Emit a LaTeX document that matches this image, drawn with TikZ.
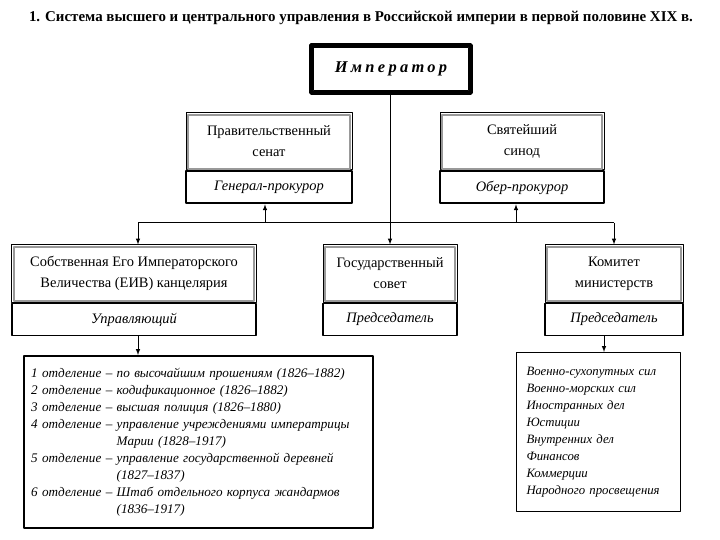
\documentclass[tikz,border=0pt]{standalone}
\usepackage{fontspec}
\setmainfont{Liberation Serif}
\usetikzlibrary{positioning,calc}

\tikzset{
  headbox/.style={draw, line width=1bp, align=center, inner sep=0pt,
    minimum height=57bp, font=\fontsize{14.5}{21}\selectfont},
  chiefbox/.style={draw, line width=1.8bp, inner sep=0pt, minimum height=32bp,
    font=\fontsize{14.5}{17}\selectfont\itshape},
  listbox/.style={draw, align=left, anchor=north west, inner ysep=0pt,
    font=\fontsize{13.2}{17}\selectfont\itshape},
  innerframe/.style={draw=gray!80, line width=1.5bp},
}

\begin{document}
\begin{tikzpicture}[>=latex,line join=bevel,x=1bp,y=-1bp]
  \pgfsetlinewidth{1bp}
  \fill[white] (0,0) rectangle (720,540);
  \useasboundingbox (0,0) rectangle (720,540);
%%
  % Node: title
  \node (title) at (361,18) {\fontsize{15}{18}\selectfont\bfseries
    1. Система высшего и центрального управления в Российской империи в первой половине XIX в.};
  % Node: imp
  \node[draw, line width=3.2bp, minimum width=160bp, minimum height=48bp,
    font=\fontsize{16.5}{18}\selectfont\bfseries\itshape] (imp) at (391,69)
    {\addfontfeatures{LetterSpace=20}Император};
  \draw[line width=0.9bp] ($(imp.north west)+(4.5,4.5)$) rectangle ($(imp.south east)+(-4.5,-4.5)$);
  % Node: senate
  \node[headbox, minimum width=166bp] (senate) at (269,141.5) {Правительственный\\сенат};
  \node[chiefbox, minimum width=166bp, below=0pt of senate] (genproc) {Генерал-прокурор};
  % Node: synod
  \node[headbox, minimum width=164bp] (synod) at (522,141.5) {Святейший\\синод};
  \node[chiefbox, minimum width=164bp, below=0pt of synod] (oberproc) {Обер-прокурор};
  % Node: chancery
  \node[headbox, minimum width=244bp] (chancery) at (134,273.5)
    {Собственная Его Императорского\\Величества (ЕИВ) канцелярия};
  \node[chiefbox, minimum width=244bp, below=0pt of chancery] (manager) {Управляющий};
  % Node: council
  \node[headbox, minimum width=134bp] (council) at (390,273.5) {Государственный\\совет};
  \node[chiefbox, minimum width=134bp, below=0pt of council] (chair1) {Председатель};
  % Node: committee
  \node[headbox, minimum width=138bp] (committee) at (614,273.5) {Комитет\\министерств};
  \node[chiefbox, minimum width=138bp, below=0pt of committee] (chair2) {Председатель};
  % inner frames of the head boxes
  \foreach \n in {senate,synod,chancery,council,committee}
    \draw[innerframe] ($(\n.north west)+(2.5,2.5)$) rectangle ($(\n.south east)+(-2.5,-1.5)$);
  % Node: depts
  \node[listbox, line width=2.4bp, text width=335bp, inner xsep=7bp,
    minimum height=172bp] (depts) at (23,355) {%
    \begin{tabular}{@{}l@{ }l@{}}
    1 отделение –& по высочайшим прошениям (1826–1882)\\
    2 отделение –& кодификационное (1826–1882)\\
    3 отделение –& высшая полиция (1826–1880)\\
    4 отделение –& управление учреждениями императрицы\\
                 & Марии (1828–1917)\\
    5 отделение –& управление государственной деревней\\
                 & (1827–1837)\\
    6 отделение –& Штаб отдельного корпуса жандармов\\
                 & (1836–1917)
    \end{tabular}};
  % Node: ministries
  \node[listbox, text width=144bp, inner xsep=10bp, minimum height=159bp,
    font=\fontsize{12.8}{17}\selectfont\itshape] (ministries) at (516,352) {%
    Военно-сухопутных сил\\
    Военно-морских сил\\
    Иностранных дел\\
    Юстиции\\
    Внутренних дел\\
    Финансов\\
    Коммерции\\
    Народного просвещения};
%%
  \coordinate (jl) at (138,223);
  \coordinate (js) at (265,223);
  \coordinate (jo) at (516,223);
  \coordinate (jr) at (614,223);
  \coordinate (jm) at (604,340);
  % Edge: imp -> council
  \draw [->] (imp.south -| council.north) -- (council.north);
  % Edge: jl -- jr
  \draw (jl) -- (jr);
  % Edge: js -> genproc
  \draw [->] (js) -- (js |- genproc.south);
  % Edge: jo -> oberproc
  \draw [->] (jo) -- (jo |- oberproc.south);
  % Edge: jl -> chancery
  \draw [->] (jl) -- (jl |- chancery.north);
  % Edge: jr -> committee
  \draw [->] (jr) -- (jr |- committee.north);
  % Edge: manager -> depts
  \draw [->] (jl |- manager.south) -- (jl |- depts.north);
  % Edge: chair2 -> ministries
  \draw [->] (jm |- chair2.south) -- (jm |- ministries.north);
%
\end{tikzpicture}
\end{document}
